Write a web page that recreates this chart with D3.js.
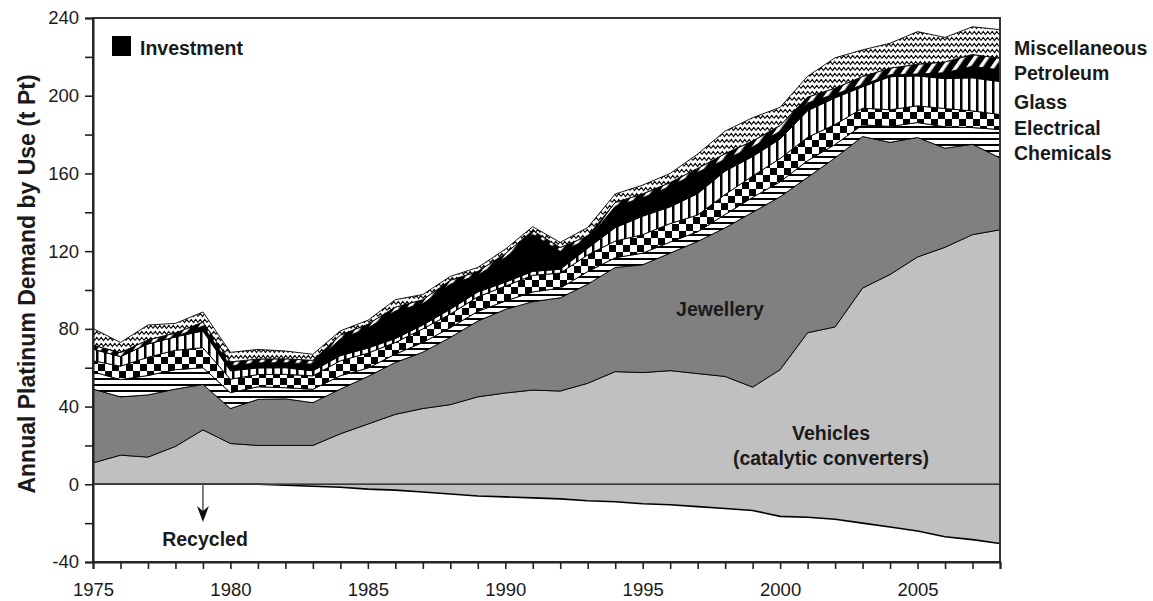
<!DOCTYPE html>
<html>
<head>
<meta charset="utf-8">
<script src="https://cdn.jsdelivr.net/npm/d3@7"></script>
<style>
  html, body { margin: 0; padding: 0; background: #fff; }
  svg { display: block; }
  text { font-family: "Liberation Sans", Arial, sans-serif; fill: #1a1a1a; }
</style>
</head>
<body>
<svg id="chart" width="1153" height="601"></svg>
<script>
// Annual platinum demand by end use, tonnes of Pt, 1975–2008
const years = d3.range(1975, 2009);

const vehicles    = [11, 15, 14, 19.5, 28, 21, 20, 20, 20, 26, 31, 36, 39, 41, 45, 47, 48.5, 48, 52, 58, 57.5, 58.5, 57, 55.5, 50, 59, 78, 81, 101, 108, 117, 122, 128.5, 131];
const jewellery   = [38, 30, 32, 29.5, 23.4, 18, 23.7, 24, 22, 23, 24.5, 26.7, 29, 34.6, 39, 43, 45.5, 48, 51, 53.6, 55.5, 60.5, 68, 76.5, 90, 89, 80, 87, 78, 68, 61.5, 51, 46.5, 37];
const chemicals   = [8.9, 8.9, 10, 10, 8.6, 8.2, 6.5, 5.7, 6.9, 6.9, 4.3, 4.3, 5, 5, 5, 4.3, 5, 5, 6.5, 5, 6, 5.7, 5, 6.9, 7.7, 7.7, 8.6, 6.9, 6, 8.2, 7.7, 11, 8.6, 14.6];
const electrical  = [5.7, 6.9, 9.4, 10, 10.3, 6.9, 6.3, 6.9, 6.9, 7.7, 7.7, 6, 7, 7, 7.5, 7.7, 8.6, 7.7, 8.6, 8.6, 9.5, 9.5, 8.6, 10.3, 11, 12, 12, 10.3, 8.6, 8.6, 8.6, 9.4, 8.6, 7.7];
const glass       = [6, 5, 6.9, 6.9, 8.6, 4.3, 3.4, 3.4, 2.6, 2.6, 2.6, 2, 2, 2.5, 2.5, 2, 2, 2, 3.4, 6.9, 9.5, 8.6, 11, 12, 10, 10, 13.7, 13.7, 11, 17, 15.4, 15.4, 17, 17];
const investment  = [0, 0, 0, 0, 2.6, 2.6, 2.6, 2.6, 3.4, 8.6, 10.3, 14.2, 11, 12.9, 8.6, 12.7, 19, 9.2, 4.3, 11, 9.5, 10.5, 11, 6, 5, 4, 4, 2, 1, 1, 1, 3, 6, 6];
const petroleum   = [2, 2, 2, 2, 2, 2, 2, 2, 2, 2, 2, 2, 2, 2, 2, 2, 2, 2, 2, 2, 2, 2, 2, 3, 3, 3, 3, 3, 4.3, 3.4, 5, 5.6, 6, 6];
const miscellaneous = [8.6, 5.2, 7.7, 4.9, 5.2, 4.9, 4.9, 4.0, 3.1, 2.2, 2.0, 3.8, 2.7, 2.0, 2.0, 2.3, 2.0, 2.6, 4.4, 4.3, 4.5, 4.7, 7.4, 11.6, 12, 9.3, 10.7, 15.6, 13.7, 12.8, 16.8, 12.6, 14.3, 14.7];
const recycled    = [0, 0, 0, 0, 0, 0, 0, -0.5, -1, -1.5, -2.5, -3, -4, -5, -6, -6.5, -7, -7.5, -8.5, -9, -10, -10.5, -11.5, -12.5, -13.5, -16.5, -17, -18, -20, -22, -24, -27, -28.5, -30.5];

const yTicks = d3.range(-40, 241, 20);
const xTicks = d3.range(1975, 2009, 1);

const layerKeys = ["vehicles", "jewellery", "chemicals", "electrical", "glass", "investment", "petroleum", "miscellaneous"];
const layerData = { vehicles, jewellery, chemicals, electrical, glass, investment, petroleum, miscellaneous };

const rows = years.map((yr, i) => {
  const r = { year: yr };
  layerKeys.forEach(k => { r[k] = layerData[k][i]; });
  r.recycled = recycled[i];
  return r;
});

const svg = d3.select("#chart");
const plotLeft = 93, plotRight = 1000, plotTop = 18, plotBottom = 562;

const x = d3.scaleLinear().domain([1975, 2008]).range([plotLeft, plotRight]);
const y = d3.scaleLinear().domain([-40, 240]).range([plotBottom, plotTop]);

// ---- fill patterns ----
const defs = svg.append("defs");

// horizontal stripes (chemicals)
const pH = defs.append("pattern").attr("id", "pat-chem").attr("patternUnits", "userSpaceOnUse")
  .attr("width", 8).attr("height", 6);
pH.append("rect").attr("width", 8).attr("height", 6).attr("fill", "#fff");
pH.append("rect").attr("y", 0).attr("width", 8).attr("height", 2).attr("fill", "#000");

// checkerboard (electrical)
const pC = defs.append("pattern").attr("id", "pat-elec").attr("patternUnits", "userSpaceOnUse")
  .attr("width", 14).attr("height", 14);
pC.append("rect").attr("width", 14).attr("height", 14).attr("fill", "#fff");
pC.append("rect").attr("x", 0).attr("y", 0).attr("width", 7).attr("height", 7).attr("fill", "#000");
pC.append("rect").attr("x", 7).attr("y", 7).attr("width", 7).attr("height", 7).attr("fill", "#000");

// vertical stripes (glass)
const pV = defs.append("pattern").attr("id", "pat-glass").attr("patternUnits", "userSpaceOnUse")
  .attr("width", 8).attr("height", 8);
pV.append("rect").attr("width", 8).attr("height", 8).attr("fill", "#fff");
pV.append("rect").attr("x", 0).attr("width", 2.5).attr("height", 8).attr("fill", "#000");

// wide diagonal (petroleum)
const pD = defs.append("pattern").attr("id", "pat-petro").attr("patternUnits", "userSpaceOnUse")
  .attr("width", 10).attr("height", 10).attr("patternTransform", "rotate(35)");
pD.append("rect").attr("width", 10).attr("height", 10).attr("fill", "#000");
pD.append("rect").attr("x", 0).attr("width", 3.5).attr("height", 10).attr("fill", "#fff");

// zigzag (miscellaneous)
const pZ = defs.append("pattern").attr("id", "pat-misc").attr("patternUnits", "userSpaceOnUse")
  .attr("width", 9).attr("height", 6);
pZ.append("rect").attr("width", 9).attr("height", 6).attr("fill", "#fff");
pZ.append("path").attr("d", "M0,4.5 L2.25,1.5 L4.5,4.5 L6.75,1.5 L9,4.5")
  .attr("fill", "none").attr("stroke", "#000").attr("stroke-width", 1.1);

const fills = {
  vehicles: "#c0c0c0",
  jewellery: "#808080",
  chemicals: "url(#pat-chem)",
  electrical: "url(#pat-elec)",
  glass: "url(#pat-glass)",
  investment: "#000",
  petroleum: "url(#pat-petro)",
  miscellaneous: "url(#pat-misc)"
};

// ---- stacked areas ----
const stack = d3.stack().keys(layerKeys);
const series = stack(rows);

const area = d3.area()
  .x(d => x(d.data.year))
  .y0(d => y(d[0]))
  .y1(d => y(d[1]));

const plot = svg.append("g");

plot.selectAll("path.layer")
  .data(series)
  .join("path")
  .attr("class", "layer")
  .attr("d", area)
  .attr("fill", d => fills[d.key])
  .attr("stroke", "#000")
  .attr("stroke-width", 0.9)
  .attr("stroke-linejoin", "round");

// recycled metal, shown below zero
const recArea = d3.area()
  .x(d => x(d.year))
  .y0(y(0))
  .y1(d => y(d.recycled));
plot.append("path")
  .datum(rows)
  .attr("d", recArea)
  .attr("fill", "#c0c0c0");
plot.append("path")
  .datum(rows)
  .attr("d", d3.line().x(d => x(d.year)).y(d => y(d.recycled)))
  .attr("fill", "none")
  .attr("stroke", "#000")
  .attr("stroke-width", 1.6);

// zero line
svg.append("line")
  .attr("x1", plotLeft).attr("x2", plotRight)
  .attr("y1", y(0)).attr("y2", y(0))
  .attr("stroke", "#3a3a3a").attr("stroke-width", 1.6);

// ---- frame & axes ----
svg.append("rect")
  .attr("x", plotLeft).attr("y", plotTop)
  .attr("width", plotRight - plotLeft).attr("height", plotBottom - plotTop)
  .attr("fill", "none").attr("stroke", "#333").attr("stroke-width", 2);

const yAxis = svg.append("g")
  .attr("transform", `translate(${plotLeft},0)`)
  .call(d3.axisLeft(y).tickValues(yTicks).tickSize(8).tickPadding(6)
    .tickFormat(d => (d % 40 === 0 ? d : "")));
yAxis.select(".domain").attr("stroke", "#222").attr("stroke-width", 2);
yAxis.selectAll(".tick line").attr("stroke", "#222").attr("stroke-width", 1.6);
yAxis.selectAll(".tick text").style("font-size", "18.5px").attr("fill", "#222")
  .style("font-family", "'Liberation Sans', Arial, sans-serif");

const xAxis = svg.append("g")
  .attr("transform", `translate(0,${plotBottom})`)
  .call(d3.axisBottom(x).tickValues(xTicks).tickSize(7).tickPadding(14)
    .tickFormat(d => (d % 5 === 0 ? d : "")));
xAxis.select(".domain").attr("stroke", "#222").attr("stroke-width", 2);
xAxis.selectAll(".tick line").attr("stroke", "#222").attr("stroke-width", 1.6);
xAxis.selectAll(".tick text").style("font-size", "18.5px").attr("fill", "#222")
  .style("font-family", "'Liberation Sans', Arial, sans-serif");

// axis title
svg.append("text")
  .attr("transform", "translate(35,284) rotate(-90)")
  .attr("text-anchor", "middle")
  .style("font-size", "23px").style("font-weight", "bold")
  .text("Annual Platinum Demand by Use (t Pt)");

// ---- annotations ----
const bold = sel => sel.style("font-weight", "bold").style("font-size", "19.5px");

svg.append("rect").attr("x", 112).attr("y", 36).attr("width", 19).attr("height", 20).attr("fill", "#000");
svg.append("text").attr("x", 140).attr("y", 55).text("Investment").call(bold);

const sideLabels = [
  ["Miscellaneous", 55],
  ["Petroleum", 80],
  ["Glass", 109],
  ["Electrical", 135],
  ["Chemicals", 160]
];
svg.selectAll("text.side").data(sideLabels).join("text")
  .attr("class", "side")
  .attr("x", 1014).attr("y", d => d[1])
  .text(d => d[0]).call(bold);

svg.append("text").attr("x", 720).attr("y", 316).attr("text-anchor", "middle").text("Jewellery").call(bold);
svg.append("text").attr("x", 831).attr("y", 440).attr("text-anchor", "middle").text("Vehicles").call(bold);
svg.append("text").attr("x", 831).attr("y", 465).attr("text-anchor", "middle").text("(catalytic converters)").call(bold);
svg.append("text").attr("x", 205).attr("y", 546).attr("text-anchor", "middle").text("Recycled").call(bold);

// arrow pointing to the recycled band
const ax = x(1979);
svg.append("line").attr("x1", ax).attr("x2", ax).attr("y1", y(0)).attr("y2", 512)
  .attr("stroke", "#555").attr("stroke-width", 1.5);
svg.append("path")
  .attr("d", `M${ax - 6},${506} L${ax},${522} L${ax + 6},${506} L${ax},${511} Z`)
  .attr("fill", "#111");
</script>
</body>
</html>
